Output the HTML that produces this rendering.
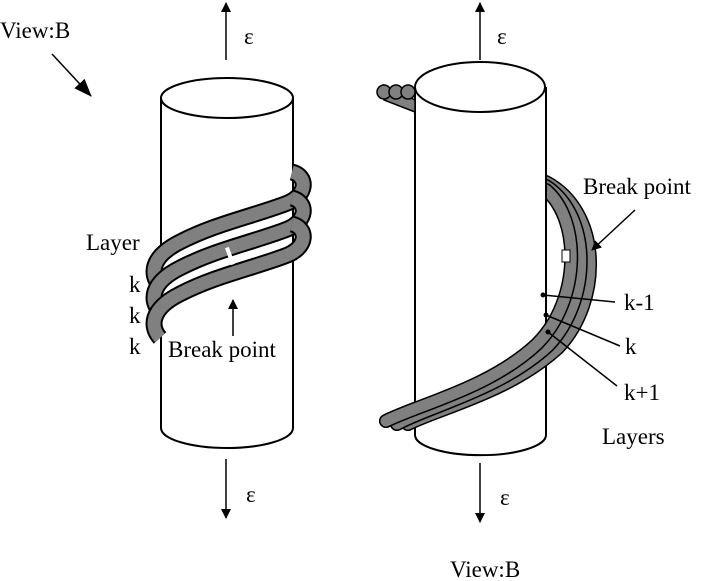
<!DOCTYPE html>
<html><head><meta charset="utf-8"><style>
html,body{margin:0;padding:0;background:#fff;width:706px;height:581px;overflow:hidden}
text{font-family:"Liberation Serif",serif;fill:#000}
</style></head><body>
<svg width="706" height="581" viewBox="0 0 706 581" xmlns="http://www.w3.org/2000/svg">
<defs>
<marker id="ah" markerWidth="10" markerHeight="12" refX="9" refY="6" orient="auto" markerUnits="userSpaceOnUse"><path d="M0,1 L10,6 L0,11 Z" fill="#000"/></marker>
<marker id="ah2" markerWidth="18" markerHeight="14" refX="17" refY="7" orient="auto" markerUnits="userSpaceOnUse"><path d="M0,0 L18,7 L0,14 Z" fill="#000"/></marker>
<clipPath id="front"><rect x="0" y="300" width="547" height="300"/></clipPath>
<g id="rt">
<path id="t3" d="M557,185 C605,215 605,300 559,348 C511,392 441,408 408,424"/>
</g>
</defs>
<g id="rtubes" fill="none" stroke-linecap="round">
<g transform="translate(0,0)">
<path d="M546,182 C602,212 603,300 558,348 C510,392 440,408 408,424" stroke="#000" stroke-width="14"/>
<path d="M546,182 C602,212 603,300 558,348 C510,392 440,408 408,424" stroke="#808080" stroke-width="11"/>
</g>
<path d="M546,186 C592,216 592,300 548,346 C500,390 430,406 397,424" stroke="#000" stroke-width="14"/>
<path d="M546,186 C592,216 592,300 548,346 C500,390 430,406 397,424" stroke="#808080" stroke-width="11"/>
<path d="M546,190 C581,220 581,300 537,344 C490,388 420,404 386,421" stroke="#000" stroke-width="14"/>
<path d="M546,190 C581,220 581,300 537,344 C490,388 420,404 386,421" stroke="#808080" stroke-width="11"/>
</g>
<g fill="none" stroke="#000" stroke-width="2">
<path d="M161,98 L161,428 A66,20 0 0 0 293,428 L293,98" fill="#fff"/>
<ellipse cx="227" cy="98" rx="66" ry="20" fill="#fff"/>
<path d="M415,87 L415,435 A65,20 0 0 0 546,435 L546,87" fill="#fff"/>
<ellipse cx="480" cy="87" rx="65" ry="25" fill="#fff"/>
</g>
<g clip-path="url(#front)" fill="none" stroke-linecap="round">
<path d="M546,182 C602,212 603,300 558,348 C510,392 440,408 408,424" stroke="#000" stroke-width="14"/>
<path d="M546,182 C602,212 603,300 558,348 C510,392 440,408 408,424" stroke="#808080" stroke-width="11"/>
<path d="M546,186 C592,216 592,300 548,346 C500,390 430,406 397,424" stroke="#000" stroke-width="14"/>
<path d="M546,186 C592,216 592,300 548,346 C500,390 430,406 397,424" stroke="#808080" stroke-width="11"/>
<path d="M546,190 C581,220 581,300 537,344 C490,388 420,404 386,421" stroke="#000" stroke-width="14"/>
<path d="M546,190 C581,220 581,300 537,344 C490,388 420,404 386,421" stroke="#808080" stroke-width="11"/>
</g>
<rect x="562" y="250" width="8" height="12" fill="#fff" stroke="#000" stroke-width="1"/>
<!-- left coils -->
<g fill="none" stroke-linecap="butt">
<path d="M292,172 C308,176 308,196 285,204 C250,217 215,224 180,242 C150,257 150,275 160,286" stroke="#000" stroke-width="17"/>
<path d="M292,172 C308,176 308,196 285,204 C250,217 215,224 180,242 C150,257 150,275 160,286" stroke="#808080" stroke-width="13"/>
<path d="M292,198 C308,202 308,222 285,230 C250,243 215,250 180,268 C150,283 150,301 160,312" stroke="#000" stroke-width="17"/>
<path d="M292,198 C308,202 308,222 285,230 C250,243 215,250 180,268 C150,283 150,301 160,312" stroke="#808080" stroke-width="13"/>
<path d="M292,224 C308,228 308,248 285,256 C250,269 215,276 180,294 C150,309 150,327 160,338" stroke="#000" stroke-width="17"/>
<path d="M292,224 C308,228 308,248 285,256 C250,269 215,276 180,294 C150,309 150,327 160,338" stroke="#808080" stroke-width="13"/>
</g>
<rect x="228" y="247" width="4" height="18" fill="#fff" transform="rotate(-20 230 256)"/>
<!-- right coils top stubs -->
<g stroke="#000" stroke-width="1.5" fill="#808080">
<path d="M384,85 L415,100 L415,112 L384,100 Z"/>
<circle cx="384" cy="92" r="7"/><circle cx="396" cy="92" r="7"/><circle cx="408" cy="92" r="7"/>
</g>
<g fill="#000"><circle cx="543" cy="295" r="2.5"/><circle cx="546" cy="315" r="2.5"/><circle cx="548" cy="332" r="2.5"/></g>
<g stroke="#000" stroke-width="1.5" fill="none">
<line x1="543" y1="295" x2="615" y2="302"/>
<line x1="546" y1="315" x2="620" y2="346"/>
<line x1="548" y1="332" x2="617" y2="386"/>
<line x1="635" y1="210" x2="592" y2="250" marker-end="url(#ah)"/>
<line x1="233" y1="336" x2="233" y2="300" marker-end="url(#ah)"/>
<line x1="226" y1="60" x2="226" y2="3" marker-end="url(#ah)"/>
<line x1="480" y1="60" x2="480" y2="3" marker-end="url(#ah)"/>
<line x1="226" y1="459" x2="226" y2="518" marker-end="url(#ah)"/>
<line x1="480" y1="463" x2="480" y2="522" marker-end="url(#ah)"/>
<line x1="52" y1="54" x2="91" y2="96" marker-end="url(#ah2)"/>
</g>
<g font-size="23">
<text x="0" y="38">View:B</text>
<text x="244" y="44">ε</text>
<text x="497" y="44">ε</text>
<text x="246" y="502">ε</text>
<text x="500" y="505">ε</text>
<text x="450" y="577">View:B</text>
<text x="86" y="250">Layer</text>
<text x="129" y="292">k</text>
<text x="129" y="323">k</text>
<text x="129" y="354">k</text>
<text x="168" y="357">Break point</text>
<text x="583" y="194">Break point</text>
<text x="624" y="310">k-1</text>
<text x="625" y="354">k</text>
<text x="624" y="400">k+1</text>
<text x="602" y="444">Layers</text>
</g>
</svg>
</body></html>
